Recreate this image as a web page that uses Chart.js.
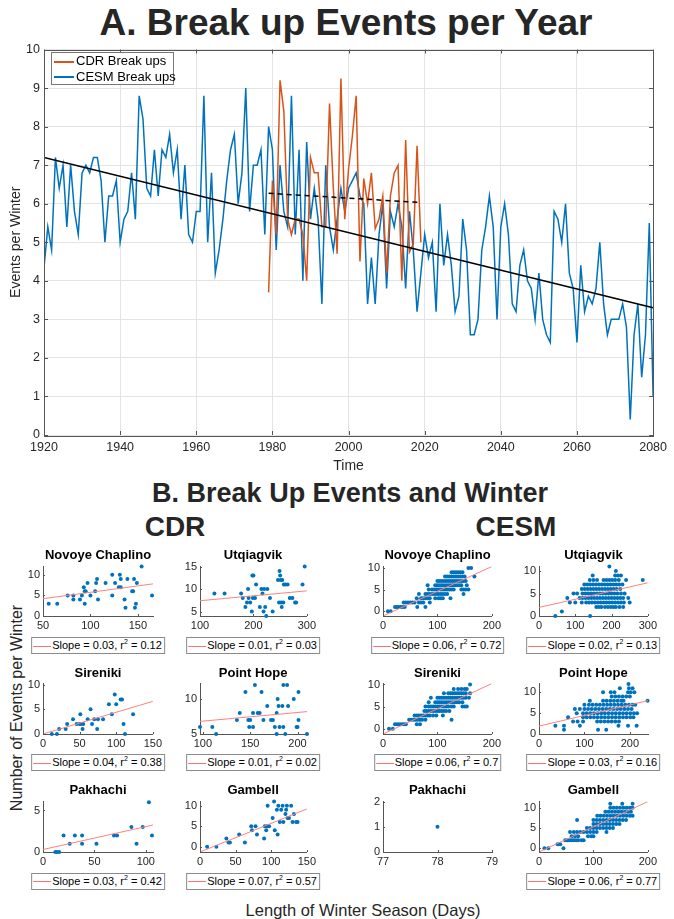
<!DOCTYPE html>
<html>
<head>
<meta charset="utf-8">
<title>Break up Events</title>
<script src="https://cdn.jsdelivr.net/npm/chart.js@4.4.1/dist/chart.umd.min.js"></script>
<style>
  body { margin: 0; background: #fff; }
  #page { position: relative; width: 674px; height: 919px; overflow: hidden; font-family: "Liberation Sans", Arial, sans-serif; }
  #page canvas { position: absolute; }
  .txt { position: absolute; white-space: nowrap; transform: translate(-50%, -50%); line-height: 1; }
  .big { font-weight: bold; color: #262626; }
  .sub { font-size: 13px; font-weight: bold; color: #000; }
  .ax { color: #262626; }
  .fit { position: absolute; transform: translateX(-50%); height: 15px; border: 1px solid #8a8a8a; background: #fff;
         font-size: 11px; line-height: 15px; white-space: nowrap; padding-right: 2px; color: #000; }
  .fit span.sw { display: inline-block; width: 18px; height: 0; border-top: 1px solid #ff7070; vertical-align: middle; margin: 0 1px 0 1px; }
  .fit sup { font-size: 7px; line-height: 0; vertical-align: 5px; }
  #topLegend { position: absolute; left: 51px; top: 52px; width: 121px; height: 31px; border: 1px solid #777; background: #fff;
               font-size: 13px; color: #000; }
  #topLegend div { height: 15.5px; line-height: 15.5px; white-space: nowrap; }
  #topLegend span.sw { display: inline-block; width: 20px; height: 2px; vertical-align: middle; margin: 0 2px 0 2px; }
</style>
</head>
<body>
<div id="page">
  <div class="txt big" style="left:346px; top:22px; font-size:37px;">A. Break up Events per Year</div>
  <div class="txt big" style="left:350px; top:493px; font-size:27px;">B. Break Up Events and Winter</div>
  <div class="txt big" style="left:175px; top:527px; font-size:28px;">CDR</div>
  <div class="txt big" style="left:516px; top:527px; font-size:28px;">CESM</div>
  <div class="txt ax" style="left:17px; top:708px; font-size:16px; transform: translate(-50%, -50%) rotate(-90deg);">Number of Events per Winter</div>
  <div class="txt ax" style="left:363px; top:910px; font-size:16.5px;">Length of Winter Season (Days)</div>
</div>

<script>
// ---------- A. yearly break up events ----------
const cesmStart = 1920;
const cesmBreakups = [
  4.35, 5.4, 4.8, 7.2, 6.4, 7.0, 5.4, 7.0, 5.8, 5.2,   // 1920s
  6.8, 7.0, 6.8, 7.2, 7.2, 6.6, 5.0, 6.2, 6.2, 6.6,    // 1930s
  5.0, 5.6, 5.8, 6.8, 5.6, 8.8, 8.2, 6.4, 6.2, 7.4,    // 1940s
  6.2, 7.4, 7.2, 7.8, 6.8, 7.4, 5.6, 7.0, 5.2, 5.0,    // 1950s
  5.8, 5.8, 8.8, 5.0, 6.8, 4.2, 4.8, 5.6, 6.6, 7.4,    // 1960s
  7.8, 6.0, 6.8, 9.0, 5.8, 7.0, 7.0, 7.4, 5.2, 8.0,    // 1970s
  7.4, 4.8, 7.0, 5.8, 5.4, 8.8, 5.2, 7.4, 4.0, 7.6,    // 1980s
  5.6, 6.4, 5.6, 3.4, 7.0, 5.4, 4.8, 5.6, 6.4, 5.8,    // 1990s
  6.4, 6.6, 6.8, 6.2, 6.0, 3.4, 4.6, 3.4, 5.2, 6.0,    // 2000s
  3.8, 5.8, 5.4, 6.0, 5.4, 3.8, 5.8, 4.8, 3.2, 4.2,    // 2010s
  5.2, 4.6, 5.0, 3.2, 6.0, 4.4, 5.2, 4.4, 3.2, 3.6,    // 2020s
  5.6, 4.8, 2.6, 2.6, 3.0, 4.8, 5.4, 6.2, 5.4, 3.0,    // 2030s
  5.4, 6.0, 5.2, 3.4, 3.2, 4.4, 4.8, 4.0, 3.8, 3.0,    // 2040s
  4.2, 3.0, 2.6, 2.4, 5.8, 5.6, 5.0, 6.0, 4.2, 3.8,    // 2050s
  2.4, 4.4, 3.2, 3.6, 3.4, 3.8, 5.0, 3.4, 2.6, 3.0,    // 2060s
  3.0, 3.0, 3.4, 2.8, 0.4, 2.6, 3.4, 1.5, 2.6, 5.5,    // 2070s
  1.0                                                  // 2080
];
const cdrStart = 1979;
const cdrBreakups = [
  3.7, 6.6, 5.2, 9.2, 8.4, 5.6, 5.2, 5.6, 5.6, 5.2, 4.0,   // 1979-1989
  7.2, 6.8, 6.8, 5.4, 5.4, 8.6, 6.4, 4.7, 9.25, 5.6,       // 1990s
  6.9, 7.75, 8.8, 4.5, 6.65, 6.0, 6.8, 5.35, 5.6, 6.2,     // 2000s
  4.2, 6.2, 6.8, 7.0, 4.0, 7.65, 4.75, 4.95, 7.5, 5.0      // 2010s
];
const cesmTrendYears = [1920, 2080];
const cesmTrend = [7.2, 3.3];
const cdrTrendYears = [1979, 2019];
const cdrTrend = [6.27, 6.03];
const yearTicks = [1920, 1940, 1960, 1980, 2000, 2020, 2040, 2060, 2080];
const eventTicks = [0, 1, 2, 3, 4, 5, 6, 7, 8, 9, 10];

// ---------- B. CDR stations: winter length (days) vs events ----------
const cdrNovoyeX = [56, 65, 76, 82, 82, 89, 91, 93, 94, 95, 94, 97, 100, 105, 106, 107, 108, 116, 123, 123,
                    126, 130, 131, 132, 132, 136, 137, 139, 144, 145, 146, 147, 148, 149, 154, 165];
const cdrNovoyeY = [3, 3, 5, 5, 4, 4, 5, 7, 6, 6, 3, 8, 5, 6, 8, 9, 4, 8, 10, 5,
                    8, 7, 10, 9, 7, 4, 2, 9, 6, 6, 9, 2, 3, 8, 12, 5];
const cdrUtqX = [127, 146, 177, 180, 185, 188, 190, 191, 194, 197, 198, 200, 199, 203, 205, 212, 215, 217, 219, 220,
                 222, 224, 226, 231, 236, 246, 248, 249, 250, 251, 252, 253, 254, 256, 257, 260, 264, 268, 273, 278,
                 280, 292, 296];
const cdrUtqY = [9, 9, 9, 8, 6, 7, 10, 8, 7, 5, 13, 13, 8, 8, 11, 6, 10, 9, 5, 10,
                 6, 4, 10, 8, 5, 12, 7, 14, 13, 12, 7, 6, 12, 7, 11, 11, 11, 8, 8, 7,
                 7, 11, 15];
const cdrSirenikiX = [12, 19, 22, 31, 33, 41, 46, 50, 51, 52, 54, 55, 61, 65, 67, 70, 74, 75, 82, 90,
                      94, 98, 100, 106, 108, 110, 112, 123];
const cdrSirenikiY = [0, 0, 1, 1, 2, 3, 2, 2, 4, 2, 1, 2, 3, 5, 2, 3, 1, 3, 3, 6,
                      4, 8, 6, 7, 7, 2, 0, 4];
const cdrPointHopeX = [97, 110, 114, 136, 139, 145, 148, 149, 150, 153, 153, 155, 158, 160, 162, 164, 168, 172, 174, 176,
                       178, 178, 179, 180, 181, 184, 185, 185, 187, 189, 190, 196, 199, 200, 201, 201, 210];
const cdrPointHopeY = [6, 6, 5, 7, 8, 11, 7, 6, 7, 6, 8, 12, 8, 8, 11, 7, 9, 7, 7, 6,
                       5, 8, 10, 9, 6, 9, 6, 12, 5, 12, 9, 10, 6, 6, 11, 7, 5];
const cdrPakhachiX = [12, 13.5, 15.7, 20, 26, 31, 38, 38, 52, 69, 72, 86, 91, 97, 103, 106];
const cdrPakhachiY = [0, 0, 0, 2, 1, 2, 2, 1, 1, 2, 2, 3, 1, 3, 6, 2];
const cdrGambellX = [10, 23, 37, 40, 42, 55, 63, 72, 73, 78, 80, 90, 91, 93, 94, 95, 97, 102, 104, 105,
                     108, 109, 110, 112, 114, 116, 117, 120, 121, 122, 123, 125, 128, 130, 132, 135, 137];
const cdrGambellY = [0, 0, 2, 1, 1, 3, 1, 5, 4, 5, 3, 2, 5, 4, 5, 10, 5, 7, 11, 4,
                     9, 3, 10, 6, 9, 10, 6, 8, 9, 10, 7, 7, 10, 6, 8, 6, 6];

// ---------- B. CESM stations: winter lengths listed per event count (index = events) ----------
const cesmNovoye = [
  [9, 14],
  [22, 25, 28, 32, 36, 40, 63, 78],
  [38, 42, 46, 50, 54, 58, 66, 70, 74, 86],
  [62, 70, 74, 78, 82, 86, 96, 102, 106, 110, 124],
  [66, 78, 82, 86, 90, 94, 98, 102, 106, 110, 114, 118, 148],
  [84, 90, 94, 98, 102, 106, 110, 114, 118, 122, 126, 130, 144, 148, 152, 157],
  [82, 96, 100, 104, 108, 112, 116, 120, 124, 128, 132, 136, 140, 144, 154],
  [100, 104, 108, 112, 116, 120, 124, 128, 132, 136, 140, 144, 148, 152],
  [114, 118, 122, 126, 130, 134, 138, 142, 146, 150, 168],
  [126, 130, 134, 138, 142, 146],
  [157, 162]
];
const cesmUtq = [
  [45, 141],
  [63],
  [158, 165, 172, 182, 190, 198, 205, 212, 222, 232],
  [85, 100, 118, 130, 138, 146, 154, 162, 170, 178, 186, 194, 202, 210, 218, 226, 234, 250],
  [78, 112, 120, 128, 136, 144, 152, 160, 168, 176, 184, 192, 200, 208, 216, 224, 232, 246],
  [95, 105, 120, 128, 136, 144, 152, 160, 168, 176, 184, 192, 200, 208, 216, 226, 236],
  [118, 126, 134, 142, 150, 158, 166, 174, 182, 190, 198, 206, 214, 224],
  [125, 133, 141, 149, 157, 165, 173, 181, 189, 197, 205, 213, 221, 230],
  [140, 150, 160, 178, 186, 194, 202, 210, 220, 240, 286],
  [148, 210, 218, 226],
  [212],
  [194]
];
const cesmSireniki = [
  [11, 18],
  [22, 26, 30, 34, 38, 42, 62, 68],
  [48, 52, 56, 60, 64, 68, 72, 78, 126],
  [58, 62, 66, 70, 74, 78, 82, 86, 92, 98, 110],
  [76, 80, 84, 88, 92, 96, 100, 104, 108, 112, 116, 122],
  [78, 84, 88, 92, 96, 100, 104, 108, 112, 116, 120, 126, 130, 146, 150, 154],
  [84, 96, 100, 104, 108, 112, 116, 120, 124, 128, 132, 136, 140, 146],
  [88, 100, 104, 108, 112, 116, 120, 124, 128, 132, 136, 140, 144, 148, 152, 158],
  [112, 120, 124, 128, 132, 136, 140, 144, 148, 152, 160],
  [130, 138, 144, 150, 154],
  [160]
];
const cesmPointHope = [
  [],
  [55, 130, 148],
  [36, 55, 90, 175, 196, 215],
  [75, 85, 97, 128, 136, 144, 152, 160, 168, 176],
  [64, 97, 105, 113, 121, 129, 137, 145, 153, 161, 169, 177, 185, 193, 201, 208],
  [83, 97, 105, 113, 121, 129, 137, 145, 153, 161, 169, 177, 185, 193, 201, 209, 216],
  [79, 90, 100, 108, 116, 124, 132, 140, 148, 156, 164, 172, 180, 188, 196, 204],
  [100, 110, 118, 126, 134, 142, 150, 158, 166, 174, 182, 190, 198, 206, 212],
  [112, 141, 149, 157, 165, 173, 181, 186, 239],
  [160, 168, 176, 184, 192, 200],
  [141, 158, 166, 196, 202, 210],
  [178, 198, 206],
  [197]
];
const cesmPakhachiX = [78];
const cesmPakhachiY = [1];
const cesmGambell = [
  [10, 17, 45],
  [34, 39],
  [48, 52, 56, 60, 64, 68, 72, 78, 82],
  [60, 66, 72, 90, 96, 100],
  [57, 64, 70, 76, 82, 88, 94, 100, 106, 124],
  [88, 94, 100, 106, 112, 118, 124, 130, 136],
  [100, 106, 112, 118, 124, 130, 136, 142, 148],
  [70, 100, 106, 112, 118, 124, 130, 136, 142, 148, 154, 160],
  [107, 113, 119, 125, 131, 137, 143, 149, 155, 161, 167, 172],
  [122, 128, 134, 140, 146, 152, 158, 164, 169],
  [131, 137, 143, 149, 155, 161, 167, 172],
  [131, 153, 172]
];

// fitted lines: events at the left and right x-limit of each panel
const cdrNovoyeFit = [4.2, 7.8];
const cdrUtqFit = [7.4, 9.6];
const cdrSirenikiFit = [0.0, 6.6];
const cdrPointHopeFit = [6.8, 8.2];
const cdrPakhachiFit = [0.3, 3.25];
const cdrGambellFit = [-1.3, 9.2];
const cesmNovoyeFit = [-1.1, 10.3];
const cesmUtqFit = [1.9, 7.4];
const cesmSirenikiFit = [-1.2, 10.2];
const cesmPointHopeFit = [1.9, 8.0];
const cesmGambellFit = [-0.9, 11.5];

const cdrSlope = [0.03, 0.01, 0.04, 0.01, 0.03, 0.07];
const cdrR2 = [0.12, 0.03, 0.38, 0.02, 0.42, 0.57];
const cesmSlope = [0.06, 0.02, 0.06, 0.03, null, 0.06];
const cesmR2 = [0.72, 0.13, 0.7, 0.16, null, 0.77];

const stations = ['Novoye Chaplino', 'Utqiagvik', 'Sireniki', 'Point Hope', 'Pakhachi', 'Gambell'];

// tick labels of the small panels
const countTicks = [0, 5, 10];
const cdrUtqCountTicks = [5, 10, 15];
const cdrPointHopeCountTicks = [5, 10];
const cdrPakhachiCountTicks = [0, 5];
const cesmPakhachiCountTicks = [0, 1, 2];
const dayTicks150 = [0, 50, 100, 150];
const dayTicks200 = [0, 100, 200];
const dayTicks300 = [0, 100, 200, 300];
const cdrNovoyeDayTicks = [50, 100, 150];
const cdrUtqDayTicks = [100, 200, 300];
const cdrPointHopeDayTicks = [100, 150, 200];
const cdrPakhachiDayTicks = [0, 50, 100];
const cesmPakhachiDayTicks = [77, 78, 79];

// ---------- styling / layout ----------
const BLUE = '#0072BD', ORANGE = '#D95319', FITRED = '#FF8080', AXIS = '#262626';
Chart.defaults.font.family = '"Liberation Sans", Arial, sans-serif';
Chart.defaults.color = AXIS;

const page = document.getElementById('page');

// MATLAB-like inward tick marks (and optional box)
const inTicks = {
  id: 'inTicks',
  afterDatasetsDraw(chart, args, o) {
    const { ctx, chartArea: a } = chart;
    const x = chart.scales.x, y = chart.scales.y;
    const len = o.len || 3;
    ctx.save();
    ctx.strokeStyle = o.color || '#404040';
    ctx.lineWidth = 1;
    ctx.beginPath();
    x.ticks.forEach(t => {
      const px = Math.round(x.getPixelForValue(t.value)) + 0.5;
      ctx.moveTo(px, a.bottom); ctx.lineTo(px, a.bottom - len);
      if (o.box) { ctx.moveTo(px, a.top); ctx.lineTo(px, a.top + len); }
    });
    y.ticks.forEach(t => {
      const py = Math.round(y.getPixelForValue(t.value)) + 0.5;
      ctx.moveTo(a.left, py); ctx.lineTo(a.left + len, py);
      if (o.box) { ctx.moveTo(a.right, py); ctx.lineTo(a.right - len, py); }
    });
    ctx.stroke();
    if (o.box) ctx.strokeRect(Math.round(a.left) + 0.5, Math.round(a.top) + 0.5, Math.round(a.width), Math.round(a.height));
    ctx.restore();
  }
};

function addCanvas(left, top, w, h) {
  const cv = document.createElement('canvas');
  cv.width = w; cv.height = h;
  cv.style.left = left + 'px'; cv.style.top = top + 'px';
  cv.style.width = w + 'px'; cv.style.height = h + 'px';
  page.appendChild(cv);
  return cv;
}

function fixedTicks(values) {
  return s => { s.ticks = values.map(v => ({ value: v })); };
}

// ---------- top chart ----------
(function () {
  const cv = addCanvas(0, 38, 672, 437);
  const cesmPts = cesmBreakups.map((v, i) => ({ x: cesmStart + i, y: v }));
  const cdrPts = cdrBreakups.map((v, i) => ({ x: cdrStart + i, y: v }));
  new Chart(cv, {
    type: 'line',
    data: {
      datasets: [
        { label: 'CESM trend', data: cesmTrendYears.map((yr, i) => ({ x: yr, y: cesmTrend[i] })),
          borderColor: '#000', borderWidth: 1.5, pointRadius: 0, order: 1 },
        { label: 'CDR trend', data: cdrTrendYears.map((yr, i) => ({ x: yr, y: cdrTrend[i] })),
          borderColor: '#000', borderWidth: 1.5, borderDash: [5, 4], pointRadius: 0, order: 1 },
        { label: 'CDR Break ups', data: cdrPts, borderColor: ORANGE, borderWidth: 1.5, pointRadius: 0, order: 2 },
        { label: 'CESM Break ups', data: cesmPts, borderColor: BLUE, borderWidth: 1.5, pointRadius: 0, order: 3 }
      ]
    },
    options: {
      responsive: false, animation: false, events: [],
      layout: { padding: { top: 8, right: 14, left: 0, bottom: 0 } },
      plugins: { legend: { display: false }, tooltip: { enabled: false }, inTicks: { len: 4, box: true, color: '#555' } },
      scales: {
        x: {
          type: 'linear', min: 1920, max: 2080,
          afterBuildTicks: fixedTicks(yearTicks),
          afterFit: s => { s.height = 40; },
          grid: { color: '#e4e4e4', drawTicks: false },
          border: { display: false },
          ticks: { font: { size: 12.5 }, padding: 5, maxRotation: 0, autoSkip: false, callback: v => String(v) },
          title: { display: true, text: 'Time', font: { size: 14 }, padding: { top: 0, bottom: 0 } }
        },
        y: {
          type: 'linear', min: 0, max: 10,
          afterBuildTicks: fixedTicks(eventTicks),
          afterFit: s => { s.width = 44; },
          grid: { color: '#e4e4e4', drawTicks: false },
          border: { display: false },
          ticks: { font: { size: 12.5 }, padding: 4, callback: v => String(v) },
          title: { display: true, text: 'Events per Winter', font: { size: 14 }, padding: { top: 8, bottom: 0 } }
        }
      }
    },
    plugins: [inTicks]
  });

  const leg = document.createElement('div');
  leg.id = 'topLegend';
  leg.innerHTML = '<div><span class="sw" style="background:' + ORANGE + '"></span>CDR Break ups</div>' +
                  '<div><span class="sw" style="background:' + BLUE + '"></span>CESM Break ups</div>';
  page.appendChild(leg);
})();

// ---------- small panels ----------
const cols = [[43.3, 152.7], [199.5, 306.7], [383.3, 491.7], [539.3, 647.5]];
const rows = [[564, 616], [680.5, 733.5], [798.5, 851.8]];
const titleY = [554, 671.7, 789];
const legendTop = [637, 754, 872.5];

function pairs(xs, ys) { return xs.map((x, i) => ({ x: x, y: ys[i] })); }
function levels(list) {
  const pts = [];
  list.forEach((xs, count) => xs.forEach(d => pts.push({ x: d, y: count })));
  return pts;
}

const panels = [
  { col: 0, row: 0, name: stations[0], pts: pairs(cdrNovoyeX, cdrNovoyeY), x: [50, 166], y: [0, 12],
    xt: cdrNovoyeDayTicks, yt: countTicks, fit: cdrNovoyeFit, slope: cdrSlope[0], r2: cdrR2[0] },
  { col: 1, row: 0, name: stations[1], pts: pairs(cdrUtqX, cdrUtqY), x: [100, 300], y: [4, 15],
    xt: cdrUtqDayTicks, yt: cdrUtqCountTicks, fit: cdrUtqFit, slope: cdrSlope[1], r2: cdrR2[1] },
  { col: 0, row: 1, name: stations[2], pts: pairs(cdrSirenikiX, cdrSirenikiY), x: [0, 150], y: [0, 10.2],
    xt: dayTicks150, yt: countTicks, fit: cdrSirenikiFit, slope: cdrSlope[2], r2: cdrR2[2] },
  { col: 1, row: 1, name: stations[3], pts: pairs(cdrPointHopeX, cdrPointHopeY), x: [97, 210], y: [5, 12.2],
    xt: cdrPointHopeDayTicks, yt: cdrPointHopeCountTicks, fit: cdrPointHopeFit, slope: cdrSlope[3], r2: cdrR2[3] },
  { col: 0, row: 2, name: stations[4], pts: pairs(cdrPakhachiX, cdrPakhachiY), x: [0, 107], y: [0, 6.07],
    xt: cdrPakhachiDayTicks, yt: cdrPakhachiCountTicks, fit: cdrPakhachiFit, slope: cdrSlope[4], r2: cdrR2[4] },
  { col: 1, row: 2, name: stations[5], pts: pairs(cdrGambellX, cdrGambellY), x: [0, 150], y: [-1.3, 11],
    xt: dayTicks150, yt: countTicks, fit: cdrGambellFit, slope: cdrSlope[5], r2: cdrR2[5] },

  { col: 2, row: 0, name: stations[0], pts: levels(cesmNovoye), x: [0, 200], y: [-1.1, 10.3],
    xt: dayTicks200, yt: countTicks, fit: cesmNovoyeFit, slope: cesmSlope[0], r2: cesmR2[0] },
  { col: 3, row: 0, name: stations[1], pts: levels(cesmUtq), x: [0, 300], y: [0, 11],
    xt: dayTicks300, yt: countTicks, fit: cesmUtqFit, slope: cesmSlope[1], r2: cesmR2[1] },
  { col: 2, row: 1, name: stations[2], pts: levels(cesmSireniki), x: [0, 200], y: [-1.2, 10.2],
    xt: dayTicks200, yt: countTicks, fit: cesmSirenikiFit, slope: cesmSlope[2], r2: cesmR2[2] },
  { col: 3, row: 1, name: stations[3], pts: levels(cesmPointHope), x: [0, 240], y: [0, 12.1],
    xt: dayTicks200, yt: countTicks, fit: cesmPointHopeFit, slope: cesmSlope[3], r2: cesmR2[3] },
  { col: 2, row: 2, name: stations[4], pts: pairs(cesmPakhachiX, cesmPakhachiY), x: [77, 79], y: [0, 2],
    xt: cesmPakhachiDayTicks, yt: cesmPakhachiCountTicks, fit: null, slope: cesmSlope[4], r2: cesmR2[4] },
  { col: 3, row: 2, name: stations[5], pts: levels(cesmGambell), x: [0, 200], y: [-0.9, 11.5],
    xt: dayTicks200, yt: countTicks, fit: cesmGambellFit, slope: cesmSlope[5], r2: cesmR2[5] }
];

function smallAxis(lim, ticks, fitFn) {
  return {
    type: 'linear', min: lim[0], max: lim[1],
    afterBuildTicks: fixedTicks(ticks),
    afterFit: fitFn,
    grid: { drawOnChartArea: false, drawTicks: false },
    border: { display: true, color: '#555', width: 1 },
    ticks: { font: { size: 11 }, padding: 3, maxRotation: 0, autoSkip: false, callback: v => String(v) }
  };
}

panels.forEach(p => {
  const [L, R] = cols[p.col];
  const [T, B] = rows[p.row];
  const yW = 26, xH = 16, padT = 7, padR = 12;
  const left = Math.round(L - yW), top = Math.round(T - padT);
  const w = Math.round(R - left + padR), h = Math.round(B - top + xH);
  const cv = addCanvas(left, top, w, h);

  const datasets = [{ data: p.pts, pointRadius: 2, pointHoverRadius: 2, backgroundColor: BLUE,
                      borderWidth: 0, clip: false, order: 2 }];
  if (p.fit) {
    datasets.push({ type: 'line', data: [{ x: p.x[0], y: p.fit[0] }, { x: p.x[1], y: p.fit[1] }],
                    borderColor: FITRED, borderWidth: 1, pointRadius: 0, order: 1 });
  }
  new Chart(cv, {
    type: 'scatter',
    data: { datasets },
    options: {
      responsive: false, animation: false, events: [],
      layout: { padding: { top: padT, right: padR, left: 0, bottom: 0 } },
      plugins: { legend: { display: false }, tooltip: { enabled: false }, inTicks: { len: 2, color: '#555' } },
      scales: {
        x: smallAxis(p.x, p.xt, s => { s.height = xH; }),
        y: smallAxis(p.y, p.yt, s => { s.width = yW; })
      }
    },
    plugins: [inTicks]
  });

  const cx = (L + R) / 2;
  const t = document.createElement('div');
  t.className = 'txt sub';
  t.style.left = cx + 'px'; t.style.top = titleY[p.row] + 'px';
  t.textContent = p.name;
  page.appendChild(t);

  if (p.slope !== null) {
    const lg = document.createElement('div');
    lg.className = 'fit';
    lg.style.left = cx + 'px'; lg.style.top = legendTop[p.row] + 'px';
    lg.innerHTML = '<span class="sw"></span>Slope = ' + p.slope + ', r<sup>2</sup> = ' + p.r2;
    page.appendChild(lg);
  }
});
</script>
</body>
</html>
